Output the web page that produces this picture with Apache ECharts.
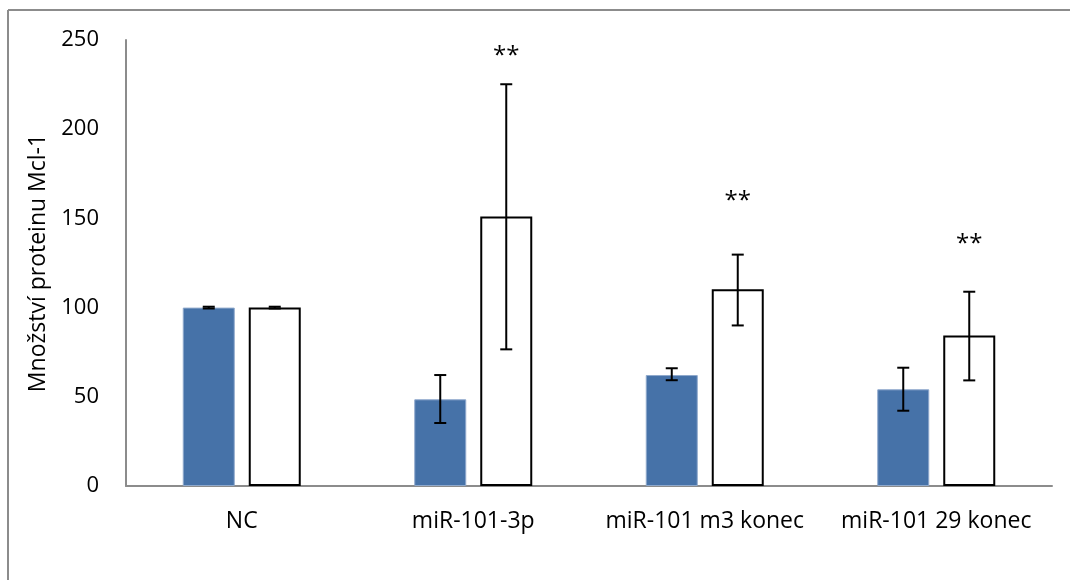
<!DOCTYPE html>
<html>
<head>
<meta charset="utf-8">
<script src="https://cdn.jsdelivr.net/npm/echarts@6/dist/echarts.min.js"></script>
<style>
  html, body { margin: 0; padding: 0; background: #fff; }
  #chart { width: 1070px; height: 580px; }
</style>
</head>
<body>
<div id="chart"></div>
<script>
const categories = ["NC", "miR-101-3p", "miR-101 m3 konec", "miR-101 29 konec"];
// plná (modrá) série
const blueValues = [100, 48.6, 62.2, 54.2];
const blueErrLow = [99.5, 35.3, 59.3, 42.2];
const blueErrHigh = [100.5, 62.2, 66.0, 66.3];
// prázdná (bílá) série
const whiteValues = [100, 151, 110.3, 84.3];
const whiteErrLow = [99.5, 76.6, 90.0, 59.2];
const whiteErrHigh = [100.5, 225.2, 129.7, 108.9];
// hvězdičky nad bílými sloupci
const starLevels = [null, 241, 159.5, 135.5];
const yTicks = { min: 0, max: 250, interval: 50 };

const font = "'Open Sans', 'Liberation Sans', sans-serif";
const barW = 52;
const barGapPx = 14;
const offset = (barW + barGapPx) / 2;

const errorSeries = (low, high, dx) => ({
  type: "custom",
  z: 10,
  data: categories.map((c, i) => [i, low[i], high[i]]),
  renderItem: (params, api) => {
    const lo = api.coord([api.value(0), api.value(1)]);
    const hi = api.coord([api.value(0), api.value(2)]);
    const x = lo[0] + dx;
    const cap = 6;
    const style = { stroke: "#000", lineWidth: 2 };
    return {
      type: "group",
      children: [
        { type: "line", shape: { x1: x, y1: lo[1], x2: x, y2: hi[1] }, style },
        { type: "line", shape: { x1: x - cap, y1: lo[1], x2: x + cap, y2: lo[1] }, style },
        { type: "line", shape: { x1: x - cap, y1: hi[1], x2: x + cap, y2: hi[1] }, style },
      ],
    };
  },
});

const chart = echarts.init(document.getElementById("chart"));
chart.setOption({
  animation: false,
  backgroundColor: "#fff",
  grid: { left: 126, right: 18, top: 40, bottom: 94 },
  graphic: [
    { type: "line", shape: { x1: 8, y1: 10, x2: 1070, y2: 10 }, style: { stroke: "#8c8c8c", lineWidth: 2 } },
    { type: "line", shape: { x1: 8, y1: 10, x2: 8, y2: 580 }, style: { stroke: "#8c8c8c", lineWidth: 2 } },
  ],
  xAxis: {
    type: "category",
    data: categories,
    axisLine: { lineStyle: { color: "#8c8c8c", width: 2 } },
    axisTick: { show: false },
    axisLabel: { color: "#000", fontSize: 23, fontFamily: font, margin: 24, interval: 0 },
  },
  yAxis: {
    type: "value",
    min: yTicks.min,
    max: yTicks.max,
    interval: yTicks.interval,
    name: "Množství proteinu Mcl-1",
    nameLocation: "middle",
    nameGap: 71,
    nameTextStyle: { color: "#000", fontSize: 23, fontFamily: font },
    axisLine: { show: true, lineStyle: { color: "#8c8c8c", width: 2 } },
    axisTick: { show: false },
    splitLine: { show: false },
    axisLabel: { color: "#000", fontSize: 22, fontFamily: font, margin: 27 },
  },
  series: [
    {
      type: "bar",
      data: blueValues,
      barWidth: barW,
      barGap: (barGapPx / barW) * 100 + "%",
      itemStyle: { color: "#4672a8", borderColor: "#8fa9cc", borderWidth: 1 },
    },
    {
      type: "bar",
      data: whiteValues,
      barWidth: barW,
      itemStyle: { color: "#fff", borderColor: "#000", borderWidth: 2 },
    },
    errorSeries(blueErrLow, blueErrHigh, -offset),
    errorSeries(whiteErrLow, whiteErrHigh, offset),
    {
      type: "custom",
      z: 11,
      data: categories.map((c, i) => [i, starLevels[i]]).filter((d) => d[1] != null),
      renderItem: (params, api) => {
        const p = api.coord([api.value(0), api.value(1)]);
        return {
          type: "text",
          x: p[0] + offset,
          y: p[1],
          style: { text: "**", fill: "#000", font: "24px " + font, align: "center", verticalAlign: "middle" },
        };
      },
    },
  ],
});
</script>
</body>
</html>
